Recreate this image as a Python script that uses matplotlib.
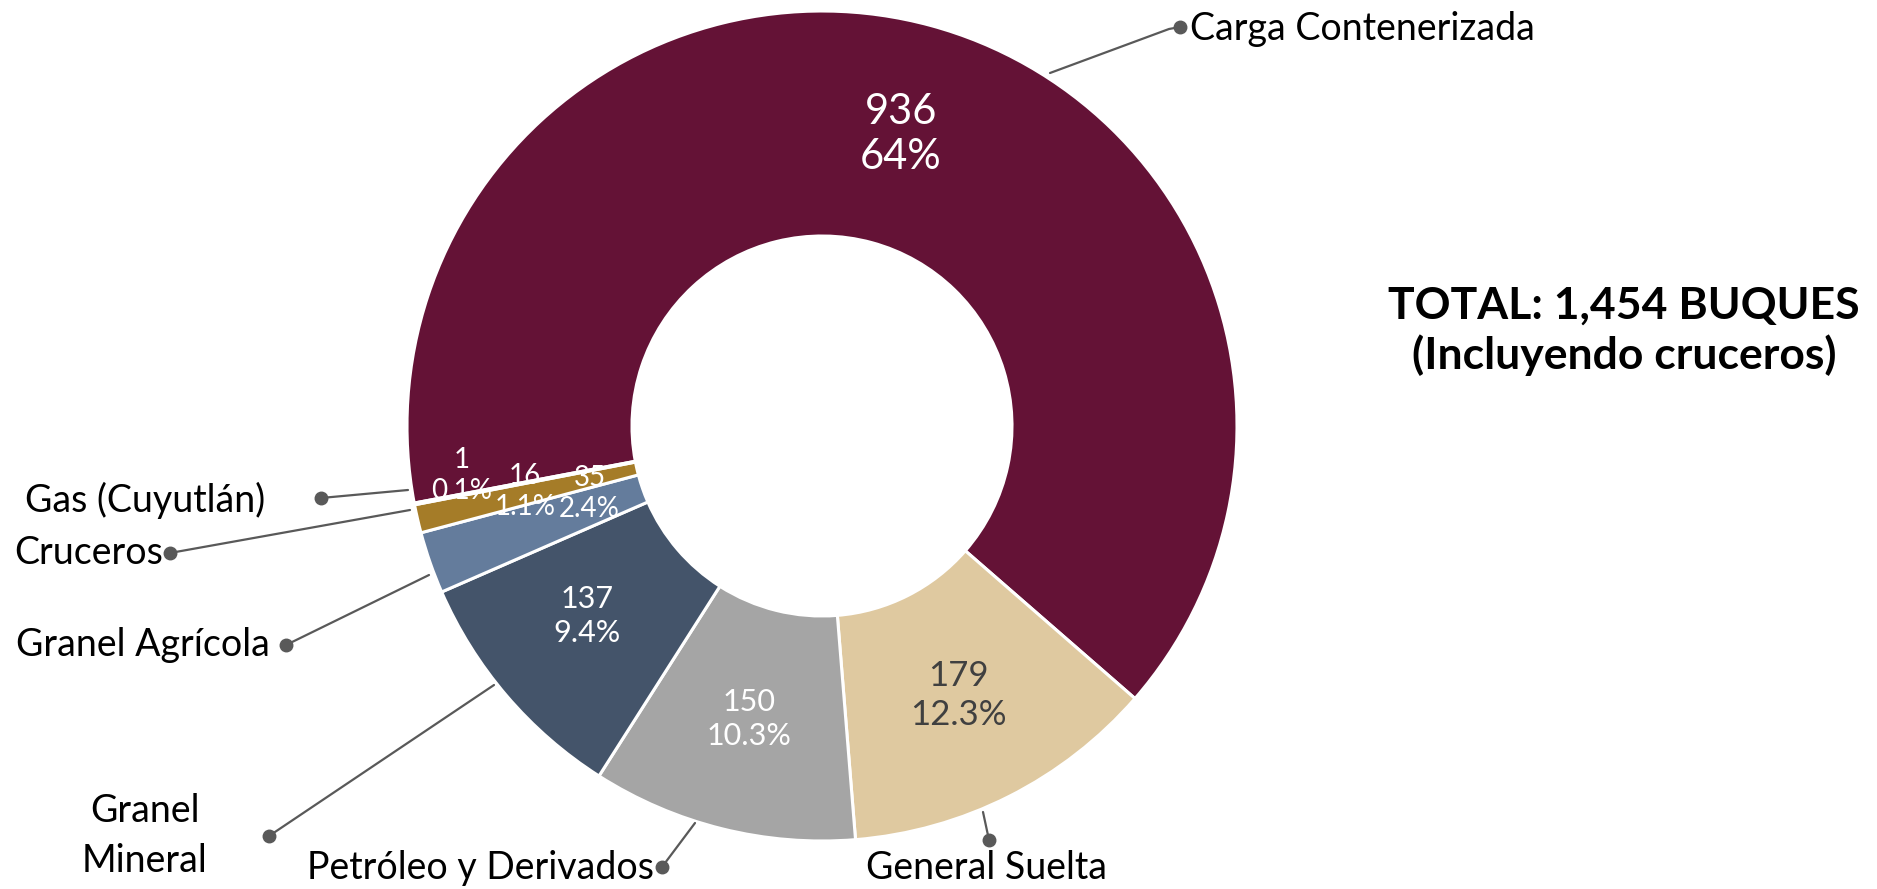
import matplotlib
matplotlib.use("Agg")
import matplotlib.pyplot as plt
import numpy as np

plt.rcParams['font.family'] = ['Lato', 'DejaVu Sans']

# data
categorias = ['Carga Contenerizada', 'General Suelta', 'Petróleo y Derivados',
              'Granel Mineral', 'Granel Agrícola', 'Cruceros', 'Gas (Cuyutlán)']
buques = [936, 179, 150, 137, 35, 16, 1]
porcentajes = ['64%', '12.3%', '10.3%', '9.4%', '2.4%', '1.1%', '0.1%']
total_txt = 'TOTAL: 1,454 BUQUES\n(Incluyendo cruceros)'

colores = ['#641236', '#DFC9A0', '#A5A5A5', '#44546A', '#647C9C', '#A57C28', '#7A1530']
col_txt = ['white', '#404040', 'white', 'white', 'white', 'white', 'white']
size_txt = [30, 25, 22, 22, 20, 20, 20]

W, H = 1877, 889
fig = plt.figure(figsize=(W / 100, H / 100), dpi=100)
ax = fig.add_axes([0, 0, 1, 1])


def P(x, y):
    # pixel coords (y from top) -> data coords
    return x, H - y


cx, cy = P(822, 426)
R_out, R_in = 415, 190

wedges, _ = ax.pie(buques, colors=colores, startangle=190.7, counterclock=False,
                   radius=R_out, center=(cx, cy),
                   wedgeprops=dict(width=R_out - R_in, edgecolor='white', linewidth=2.2))

# inside labels: (radius, angle shift) tweaks for the thin slices
ajustes = [(302, 0), (302, 0), (302, 0), (302, -1.5), (242, -3), (304, -0.5), (364, -3)]
for i, w in enumerate(wedges):
    ang = (w.theta1 + w.theta2) / 2
    r, da = ajustes[i]
    a = np.radians(ang + da)
    ax.text(cx + r * np.cos(a), cy + r * np.sin(a),
            f'{buques[i]}\n{porcentajes[i]}', ha='center', va='center',
            color=col_txt[i], fontsize=size_txt[i], linespacing=1.25)

# external labels: line start, (optional bend), dot, text position, alignment
gris = '#595959'
etiquetas = [
    ([(1050, 73), (1169, 29)], (1180, 27), (1190, 29), 'left'),
    ([(983, 812)], (989, 840), (987, 868), 'center'),
    ([(695, 823)], (662, 867), (654, 868), 'right'),
    ([(494, 685)], (269, 836), (145, 836), 'center'),
    ([(429, 575)], (286, 645), (270, 645), 'right'),
    ([(410, 510)], (170, 553), (163, 553), 'right'),
    ([(408, 490)], (321, 498), (265, 500), 'right'),
]
for i, (pts, dot, tp, ha) in enumerate(etiquetas):
    xs = [P(*p)[0] for p in pts] + [P(*dot)[0]]
    ys = [P(*p)[1] for p in pts] + [P(*dot)[1]]
    ax.plot(xs, ys, color=gris, lw=1.6, solid_capstyle='round')
    ax.plot(*P(*dot), 'o', color=gris, ms=9)
    nombre = 'Granel\nMineral' if categorias[i] == 'Granel Mineral' else categorias[i]
    ax.text(*P(*tp), nombre, ha=ha, va='center', fontsize=27, color='black',
            linespacing=1.45)

ax.text(*P(1624, 331), total_txt, ha='center', va='center', fontsize=32,
        fontweight='bold', color='black', linespacing=1.25)

ax.set_xlim(0, W)
ax.set_ylim(0, H)
ax.set_aspect('auto')
ax.axis('off')

fig.savefig('out.png', dpi=100, facecolor='white')
